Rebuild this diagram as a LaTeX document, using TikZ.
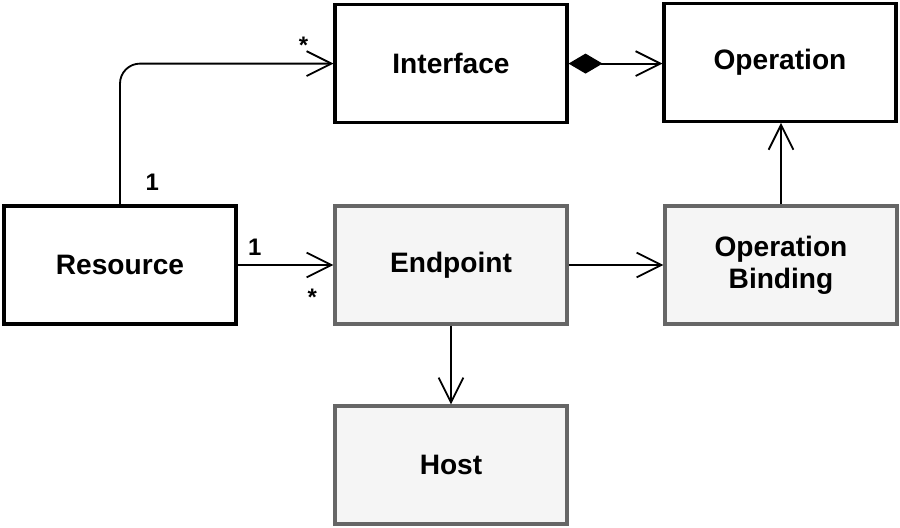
\documentclass[tikz,border=0pt]{standalone}
\usepackage{fontspec}
\setmainfont{Liberation Sans}
\usepackage{tikz}
\usetikzlibrary{shapes.geometric, arrows, arrows.meta, positioning}
\definecolor{grisfond}{HTML}{F5F5F5}
\definecolor{grisbord}{HTML}{666666}
\tikzstyle{classe} = [rectangle, minimum width = 5.8cm, minimum height = 2.95cm, text centered, draw = black, fill = white, line width = 2.2pt, font = \fontsize{20}{23}\selectfont\bfseries]
\tikzstyle{gris} = [classe, fill = grisfond, draw = grisbord]
\tikzstyle{fleche} = [line width = 1.3pt, -{Straight Barb[length=0.62cm, width=0.62cm, line width=1.3pt]}]
\tikzstyle{mult} = [font = \fontsize{17}{19}\selectfont\bfseries]

\begin{document}
\begin{tikzpicture}
\useasboundingbox (0,0) rectangle (22.5,-13.2);
\node (1) [classe] at (3,-6.625) {Resource};
\node (2) [classe] at (11.275,-1.59) {Interface};
\node (3) [classe] at (19.5,-1.56) {Operation};
\node (4) [gris] at (11.275,-6.625) {Endpoint};
\node (5) [gris, text width = 5cm] at (19.525,-6.625) {Operation\\Binding};
\node (6) [gris] at (11.275,-11.625) {Host};
\draw[fleche, rounded corners = 0.5cm] (1.north) |- node[mult, pos=0.08, anchor=west, xshift=0.5cm]{1} node[mult, pos=0.93, anchor=south, yshift=0.1cm]{*} (2.west);
\draw[fleche] (1.east) -- node[mult, pos=0.18, anchor=south, yshift=0.1cm]{1} node[mult, pos=0.78, anchor=north, yshift=-0.45cm]{*} (4.west);
\draw[line width = 1.3pt, {Diamond[length=0.85cm, width=0.5cm]}-{Straight Barb[length=0.62cm, width=0.62cm, line width=1.3pt]}] (2.east) -- (3.west |- 2.east);
\draw[fleche] (4.east) -- (5.west);
\draw[fleche] (5.north) -- (3.south -| 5.north);
\draw[fleche] (4.south) -- (6.north);
\end{tikzpicture}
\end{document}
